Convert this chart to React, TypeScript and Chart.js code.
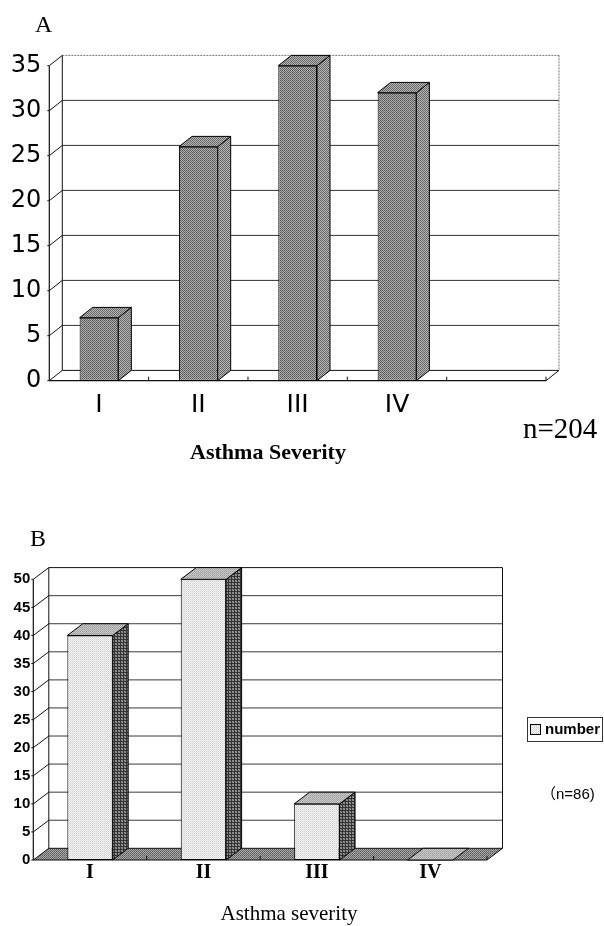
import React, { useEffect, useRef } from "react";
import { Chart, registerables } from "chart.js";

Chart.register(...registerables);

// ---------- Panel A data ----------
const categoriesA = ["I", "II", "III", "IV", ""];
const valuesA: (number | null)[] = [7, 26, 35, 32, null];
const yTicksA = [0, 5, 10, 15, 20, 25, 30, 35];
const panelLabelA = "A";
const axisTitleA = "Asthma Severity";
const noteA = "n=204";

// ---------- Panel B data ----------
const categoriesB = ["I", "II", "III", "IV"];
const valuesB = [40, 50, 10, 0];
const yTicksB = [0, 5, 10, 15, 20, 25, 30, 35, 40, 45, 50];
const seriesNameB = "number";
const panelLabelB = "B";
const axisTitleB = "Asthma severity";
const noteB = "（n=86)";

function makePattern(cells: string[][]): CanvasPattern | string {
  const h = cells.length;
  const w = cells[0].length;
  const c = document.createElement("canvas");
  c.width = w;
  c.height = h;
  const g = c.getContext("2d");
  if (!g) return cells[0][0];
  for (let j = 0; j < h; j++)
    for (let i = 0; i < w; i++) {
      g.fillStyle = cells[j][i];
      g.fillRect(i, j, 1, 1);
    }
  return g.createPattern(c, "repeat") || cells[0][0];
}

type Opt = {
  dx: number;
  dy: number;
  floorFill: any;
  sideFill: any;
  topFill: any;
  gridColor: string;
  wallEdge: string;
  wallDash: number[];
  edgeColor: string;
  texts: (ctx: CanvasRenderingContext2D, chart: any) => void;
};

function threeD(o: Opt) {
  return {
    id: "threeD",
    beforeDatasetsDraw(chart: any) {
      const { ctx, chartArea: ca } = chart;
      const xs = chart.scales.x;
      const ys = chart.scales.y;
      const L = ca.left;
      const R = ca.right;
      const T = ys.getPixelForValue(ys.max);
      const B = ys.getPixelForValue(0);
      const { dx, dy } = o;
      const line = (x1: number, y1: number, x2: number, y2: number, color: string, w = 1, dash: number[] = []) => {
        ctx.beginPath();
        ctx.setLineDash(dash);
        ctx.strokeStyle = color;
        ctx.lineWidth = w;
        ctx.moveTo(x1, y1);
        ctx.lineTo(x2, y2);
        ctx.stroke();
        ctx.setLineDash([]);
      };
      ctx.save();
      // floor
      ctx.beginPath();
      ctx.moveTo(L, B);
      ctx.lineTo(R, B);
      ctx.lineTo(R + dx, B - dy);
      ctx.lineTo(L + dx, B - dy);
      ctx.closePath();
      if (o.floorFill) {
        ctx.fillStyle = o.floorFill;
        ctx.fill();
      }
      // back wall gridlines
      ys.ticks.forEach((t: any) => {
        const v = t.value;
        if (v === 0 || v === ys.max) return;
        const py = ys.getPixelForValue(v) - dy;
        line(L + dx, py, R + dx, py, o.gridColor, 1);
      });
      // wall top & right edges
      line(L + dx, T - dy, R + dx, T - dy, o.wallEdge, 1, o.wallDash);
      line(R + dx, T - dy, R + dx, B - dy, o.wallEdge, 1, o.wallDash);
      // wall left edge
      line(L + dx, T - dy, L + dx, B - dy, o.edgeColor, 1);
      // floor edges
      line(L + dx, B - dy, R + dx, B - dy, o.edgeColor, 1);
      line(L, B, R, B, o.edgeColor, 1.2);
      line(R, B, R + dx, B - dy, o.edgeColor, 1);
      // left wall diagonals at ticks
      ys.ticks.forEach((t: any) => {
        const py = ys.getPixelForValue(t.value);
        line(L, py, L + dx, py - dy, o.edgeColor, 1);
        line(L - 2, py, L, py, o.edgeColor, 1);
      });
      // front axis
      line(L, T, L, B, o.edgeColor, 1.2);
      // floor ticks at slot boundaries
      const n = xs.ticks.length;
      const slot = (R - L) / n;
      for (let k = 0; k < n; k++) {
        const bx = xs.getPixelForValue(k) + slot / 2;
        line(bx, B, bx, B - 4, o.edgeColor, 1);
      }
      ctx.restore();
    },
    afterDatasetsDraw(chart: any) {
      const { ctx } = chart;
      const { dx, dy } = o;
      const meta = chart.getDatasetMeta(0);
      const data = chart.data.datasets[0].data;
      ctx.save();
      ctx.lineWidth = 1;
      ctx.strokeStyle = "#000";
      meta.data.forEach((el: any, i: number) => {
        if (data[i] === null || data[i] === undefined) return;
        const p = el.getProps(["x", "y", "base", "width"], true);
        const l = p.x - p.width / 2;
        const r = p.x + p.width / 2;
        const top = p.y;
        const bot = p.base;
        // side face
        if (bot - top > 0.5) {
          ctx.beginPath();
          ctx.moveTo(r, top);
          ctx.lineTo(r + dx, top - dy);
          ctx.lineTo(r + dx, bot - dy);
          ctx.lineTo(r, bot);
          ctx.closePath();
          ctx.fillStyle = o.sideFill;
          ctx.fill();
          ctx.stroke();
        }
        // top face
        ctx.beginPath();
        ctx.moveTo(l, top);
        ctx.lineTo(r, top);
        ctx.lineTo(r + dx, top - dy);
        ctx.lineTo(l + dx, top - dy);
        ctx.closePath();
        ctx.fillStyle = o.topFill;
        ctx.fill();
        ctx.stroke();
      });
      ctx.restore();
    },
    afterDraw(chart: any) {
      chart.ctx.save();
      o.texts(chart.ctx, chart);
      chart.ctx.restore();
    },
  };
}

const App = () => {
  const refA = useRef<HTMLCanvasElement>(null);
  const refB = useRef<HTMLCanvasElement>(null);

  useEffect(() => {
    const barA = makePattern([
      ["#555555", "#b0b0b0"],
      ["#b0b0b0", "#666666"],
    ]);
    const barASide = makePattern([
      ["#626262", "#b6b6b6"],
      ["#b6b6b6", "#6c6c6c"],
    ]);
    const frontB = makePattern([
      ["#cfcfcf", "#f4f4f4"],
      ["#f4f4f4", "#dedede"],
    ]);
    const sideB = makePattern([
      ["#333333", "#333333", "#333333"],
      ["#333333", "#9c9c9c", "#7a7a7a"],
      ["#333333", "#7a7a7a", "#9c9c9c"],
    ]);
    const topB = makePattern([
      ["#9a9a9a", "#cacaca"],
      ["#cacaca", "#aaaaaa"],
    ]);
    const floorB = makePattern([
      ["#585858", "#a8a8a8"],
      ["#a8a8a8", "#707070"],
    ]);

    const chartA = new Chart(refA.current as HTMLCanvasElement, {
      type: "bar",
      data: {
        labels: categoriesA,
        datasets: [
          {
            label: "A",
            data: valuesA as any,
            backgroundColor: barA as any,
            borderColor: "#000",
            borderWidth: 1,
            borderSkipped: false,
            categoryPercentage: 1,
            barPercentage: 0.39,
          },
        ],
      },
      options: {
        animation: false,
        responsive: false,
        maintainAspectRatio: false,
        devicePixelRatio: 1,
        events: [],
        layout: { padding: { left: 0, right: 58, top: 65.7, bottom: 470 - 380.7 - 45 } },
        plugins: { legend: { display: false }, tooltip: { enabled: false }, title: { display: false } },
        scales: {
          x: {
            type: "category",
            offset: true,
            grid: { display: false, drawTicks: false },
            border: { display: false },
            ticks: {
              color: "#000",
              font: { family: "DejaVu Sans", size: 25, lineHeight: 1 },
              padding: 12,
              maxRotation: 0,
              autoSkip: false,
            },
            afterFit: (s: any) => {
              s.height = 45;
            },
          },
          y: {
            min: 0,
            max: 35,
            grid: { display: false, drawTicks: false },
            border: { display: false },
            ticks: {
              color: "#000",
              font: { family: "DejaVu Sans", size: 24 },
              padding: 8,
            },
            afterBuildTicks: (s: any) => {
              s.ticks = yTicksA.map((v) => ({ value: v }));
            },
            afterFit: (s: any) => {
              s.width = 49.3;
            },
          },
        },
      },
      plugins: [
        threeD({
          dx: 13,
          dy: 10.3,
          floorFill: "#ffffff",
          sideFill: barASide,
          topFill: barASide,
          gridColor: "#333333",
          wallEdge: "#777777",
          wallDash: [2, 1],
          edgeColor: "#111111",
          texts: (ctx) => {
            ctx.fillStyle = "#000";
            ctx.textBaseline = "alphabetic";
            ctx.textAlign = "left";
            ctx.font = '24px "Liberation Serif"';
            ctx.fillText(panelLabelA, 35, 32);
            ctx.font = '29px "Liberation Serif"';
            ctx.fillText(noteA, 523, 438);
            ctx.textAlign = "center";
            ctx.font = 'bold 22px "Liberation Serif"';
            ctx.fillText(axisTitleA, 268, 459);
          },
        }) as any,
      ],
    });

    const chartB = new Chart(refB.current as HTMLCanvasElement, {
      type: "bar",
      data: {
        labels: categoriesB,
        datasets: [
          {
            label: seriesNameB,
            data: valuesB,
            backgroundColor: frontB as any,
            borderColor: "#000",
            borderWidth: 1,
            borderSkipped: false,
            categoryPercentage: 1,
            barPercentage: 0.4,
          },
        ],
      },
      options: {
        animation: false,
        responsive: false,
        maintainAspectRatio: false,
        devicePixelRatio: 1,
        events: [],
        layout: { padding: { left: 0, right: 117, top: 114.3, bottom: 461 - 395 - 30 } },
        plugins: { legend: { display: false }, tooltip: { enabled: false }, title: { display: false } },
        scales: {
          x: {
            type: "category",
            offset: true,
            grid: { display: false, drawTicks: false },
            border: { display: false },
            ticks: {
              color: "#000",
              font: { family: "Liberation Serif", size: 20, weight: "bold", lineHeight: 1 },
              padding: 3,
              maxRotation: 0,
              autoSkip: false,
            },
            afterFit: (s: any) => {
              s.height = 30;
            },
          },
          y: {
            min: 0,
            max: 50,
            grid: { display: false, drawTicks: false },
            border: { display: false },
            ticks: {
              color: "#000",
              font: { family: "Liberation Sans", size: 15, weight: "bold" },
              padding: 3,
            },
            afterBuildTicks: (s: any) => {
              s.ticks = yTicksB.map((v) => ({ value: v }));
            },
            afterFit: (s: any) => {
              s.width = 33.3;
            },
          },
        },
      },
      plugins: [
        threeD({
          dx: 15.5,
          dy: 11.7,
          floorFill: floorB,
          sideFill: sideB,
          topFill: topB,
          gridColor: "#3a3a3a",
          wallEdge: "#111111",
          wallDash: [],
          edgeColor: "#111111",
          texts: (ctx, chart) => {
            ctx.fillStyle = "#000";
            ctx.textBaseline = "alphabetic";
            ctx.textAlign = "left";
            ctx.font = '24px "Liberation Serif"';
            ctx.fillText(panelLabelB, 30, 81);
            ctx.textAlign = "center";
            ctx.font = '21px "Liberation Serif"';
            ctx.fillText(axisTitleB, 289, 455);
            // legend
            ctx.lineWidth = 1;
            ctx.strokeStyle = "#333";
            ctx.strokeRect(527.5, 252.5, 75, 24);
            ctx.fillStyle = frontB as any;
            ctx.fillRect(530.5, 259.5, 10, 10);
            ctx.strokeStyle = "#000";
            ctx.strokeRect(530.5, 259.5, 10, 10);
            ctx.fillStyle = "#000";
            ctx.textAlign = "left";
            ctx.textBaseline = "middle";
            ctx.font = 'bold 15px "Liberation Sans"';
            ctx.fillText(chart.data.datasets[0].label, 545, 265);
            ctx.font = '15px "Liberation Sans", "Noto Sans CJK JP"';
            ctx.fillText(noteB, 541, 330);
          },
        }) as any,
      ],
    });

    return () => {
      chartA.destroy();
      chartB.destroy();
    };
  }, []);

  return (
    <div style={{ position: "absolute", left: 0, top: 0, width: 604, height: 926, background: "#fff" }}>
      <canvas
        ref={refA}
        width={604}
        height={470}
        style={{ position: "absolute", left: 0, top: 0, width: 604, height: 470 }}
      />
      <canvas
        ref={refB}
        width={604}
        height={461}
        style={{ position: "absolute", left: 0, top: 465, width: 604, height: 461 }}
      />
    </div>
  );
};

export default App;
